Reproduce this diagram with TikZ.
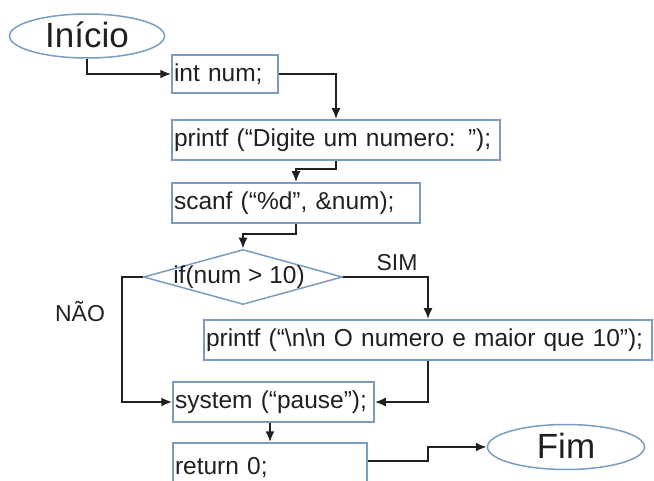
\documentclass[tikz,border=0pt]{standalone}
\usepackage{fontspec}
\setmainfont{Liberation Sans}
\usetikzlibrary{shapes.geometric,arrows.meta}
\definecolor{boxblue}{RGB}{122,156,192}
\definecolor{tinta}{RGB}{35,31,32}

\begin{document}
\begin{tikzpicture}[x=1pt, y=-1pt,
		box/.style={draw=boxblue, text=tinta, line width=1.5pt, rectangle, minimum height=40pt, inner xsep=2pt, inner ysep=0pt, align=left, font=\fontsize{24.5}{28}\selectfont},
		term/.style={draw=boxblue, text=tinta, line width=1.5pt, ellipse, inner sep=0pt, text height=24pt, text depth=1pt, font=\fontsize{35}{40}\selectfont},
		decision/.style={draw=boxblue, line width=1.5pt, diamond, inner sep=0pt, minimum width=199pt, minimum height=55pt},
		seta/.style={line width=2pt, draw=tinta, -{Latex[length=11pt,width=9pt]}},
		rotulo/.style={text=tinta, font=\fontsize{23}{26}\selectfont}]
		
		\clip (0, 0) rectangle (654, 481);
		\useasboundingbox (0, 0) rectangle (654, 481);
		
		% Inicio e fim
		\node[term, minimum width=155pt, minimum height=44pt] (inicio) at (87, 36) {Início};
		\node[term, minimum width=157pt, minimum height=45pt] (fim) at (566, 447) {Fim};
		
		% Comandos
		\node[box, minimum height=38pt, text width=102pt] (intnum) at (225, 74) {int num;};
		\node[box, text width=324pt] (digite) at (336, 140) {printf (“Digite um numero: ”);};
		\node[box, text width=244pt] (scanf) at (296, 203) {scanf (“\%d”, \&num);};
		\node[box, text width=444pt] (maior) at (428, 340) {\mbox{printf (“\textbackslash n\textbackslash n O numero e maior que 10”);}};
		\node[box, text width=197pt] (system) at (273.5, 402) {system (“pause”);};
		\node[box, minimum height=50pt, text width=190pt] (retorno) at (270, 468) {return 0;};
		
		% Decisao
		\node[decision, label={[text=tinta, font=\fontsize{24.5}{28}\selectfont, xshift=-4pt]center:if(num > 10)}] (cond) at (243, 277) {};
		\node[rotulo] (sim) at (397, 263) {SIM};
		\node[rotulo] (nao) at (80, 312) {NÃO};
		
		% Ligacoes
		\draw[seta] (inicio.south) |- (intnum.west);
		\draw[seta] (intnum.east) -| (digite.north);
		\draw[seta] (digite.south) -- ++(0, 8) -| (scanf.north);
		\draw[seta] (scanf.south) -- ++(0, 10) -| (cond.north);
		\draw[seta] (cond.east) -| (maior.north);
		\draw[seta] (cond.west) -- ++(-21, 0) |- (system.west);
		\draw[seta] (maior.south) |- (system.east);
		\draw[seta] (system.south -| retorno.north) -- (retorno.north);
		\draw[seta] ([yshift=7pt]retorno.east) -- ++(60, 0) |- (fim.west);
	\end{tikzpicture}
\end{document}
